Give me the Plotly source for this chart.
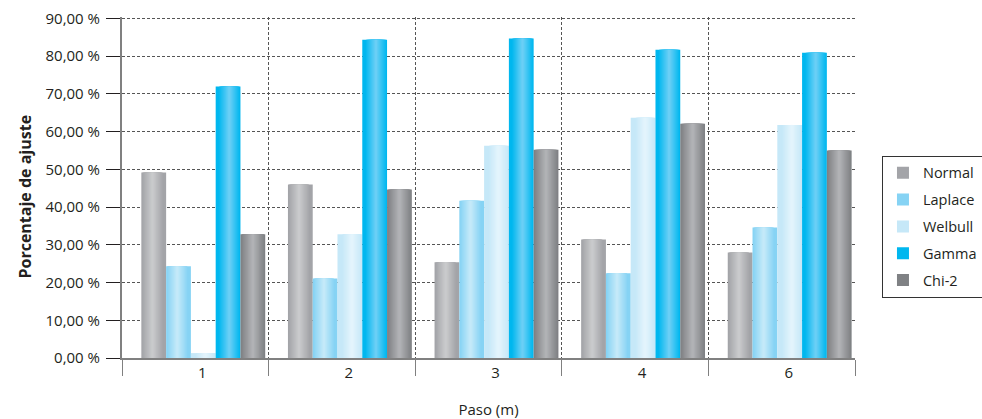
import plotly.graph_objects as go

# ---- data ----
categories = ["1", "2", "3", "4", "6"]
series_names = ["Normal", "Laplace", "Welbull", "Gamma", "Chi-2"]
normal = [49.2, 46.0, 25.4, 31.4, 28.0]
laplace = [24.3, 21.1, 41.7, 22.5, 34.6]
welbull = [1.3, 32.8, 56.3, 63.7, 61.8]
gamma = [72.0, 84.4, 84.7, 81.7, 80.9]
chi2 = [32.8, 44.7, 55.2, 62.1, 55.0]
y_tick_values = [0, 10, 20, 30, 40, 50, 60, 70, 80, 90]
y_tick_labels = ["0,00 %", "10,00 %", "20,00 %", "30,00 %", "40,00 %",
                 "50,00 %", "60,00 %", "70,00 %", "80,00 %", "90,00 %"]
x_title = "Paso (m)"
y_title = "Porcentaje de ajuste"

series_values = [normal, laplace, welbull, gamma, chi2]

# style: (edge colour, highlight colour, highlight position within bar)
styles = [
    ("#a3a4a8", "#c9cacc", 0.45),
    ("#86d3f4", "#c4e9f9", 0.45),
    ("#c6e8f8", "#e3f4fc", 0.58),
    ("#00b7ef", "#6acff6", 0.55),
    ("#7f8184", "#b1b2b5", 0.50),
]

TEXT = "#231f20"
FONT = "'Open Sans', Lato, sans-serif"


def hex_to_rgb(h):
    h = h.lstrip("#")
    return tuple(int(h[i:i + 2], 16) for i in (0, 2, 4))


def mix(c1, c2, t):
    a, b = hex_to_rgb(c1), hex_to_rgb(c2)
    return "rgb(%d,%d,%d)" % tuple(round(a[i] + (b[i] - a[i]) * t) for i in range(3))


bar_w = 0.169
group_left = -0.368
n_layers = 10

fig = go.Figure()
for i, (name, vals) in enumerate(zip(series_names, series_values)):
    edge, peak, c = styles[i]
    left = group_left + i * bar_w
    # base bar (legend entry)
    fig.add_trace(go.Bar(
        name=name, x=categories, y=vals,
        marker=dict(color=edge, line=dict(width=0)),
        width=bar_w, offset=left,
        legendgroup=name, showlegend=True, hoverinfo="skip",
    ))
    hmax = min(c, 1 - c)
    for k in range(1, n_layers):
        h = hmax * (1 - k / n_layers)
        t = k / (n_layers - 1)
        fig.add_trace(go.Bar(
            name=name, x=categories, y=vals,
            marker=dict(color=mix(edge, peak, t), line=dict(width=0)),
            width=bar_w * 2 * h, offset=left + bar_w * (c - h),
            legendgroup=name, showlegend=False, hoverinfo="skip",
        ))

fig.update_layout(
    width=982, height=419,
    barmode="overlay",
    paper_bgcolor="white", plot_bgcolor="white",
    margin=dict(l=122, r=127, t=16.5, b=61, autoexpand=False),
    font=dict(family=FONT, size=15, color=TEXT),
    legend=dict(
        x=1.0368, y=0.593, xanchor="left", yanchor="top",
        bordercolor="#333333", borderwidth=1, bgcolor="white",
        font=dict(size=14.5, color=TEXT),
        tracegroupgap=5, itemclick=False,
    ),
    xaxis=dict(
        type="category",
        tickson="boundaries",
        ticks="outside", ticklen=16, tickcolor="#808080", tickwidth=1,
        showline=True, linecolor="#808080", linewidth=2,
        showgrid=True, gridcolor="#555555", gridwidth=1, griddash="3px,2px",
        ticklabelstandoff=0, ticklabelshift=7,
        tickfont=dict(size=15, color=TEXT),
        title=dict(text=x_title, standoff=25, font=dict(size=15, color=TEXT)),
        automargin=False,
    ),
    yaxis=dict(
        range=[0, 90.4],
        tickvals=y_tick_values, ticktext=y_tick_labels,
        ticks="outside", ticklen=14, tickcolor=TEXT, tickwidth=1,
        showline=True, linecolor="#808080", linewidth=2,
        showgrid=True, gridcolor="#555555", gridwidth=1, griddash="3px,2px",
        zeroline=False,
        ticklabelstandoff=3, ticklabeloverflow="allow",
        tickfont=dict(size=15, color=TEXT),
        automargin=False,
    ),
    annotations=[dict(
        text="<b>" + y_title + "</b>", textangle=-90,
        xref="paper", yref="paper", x=-0.1323, y=0.4735,
        xanchor="center", yanchor="middle", showarrow=False,
        font=dict(size=16, color=TEXT),
    )],
)

fig.write_html(
    "out.html",
    config={"displayModeBar": False},
    post_script="document.body.style.margin='0';document.body.style.overflow='hidden';",
)
